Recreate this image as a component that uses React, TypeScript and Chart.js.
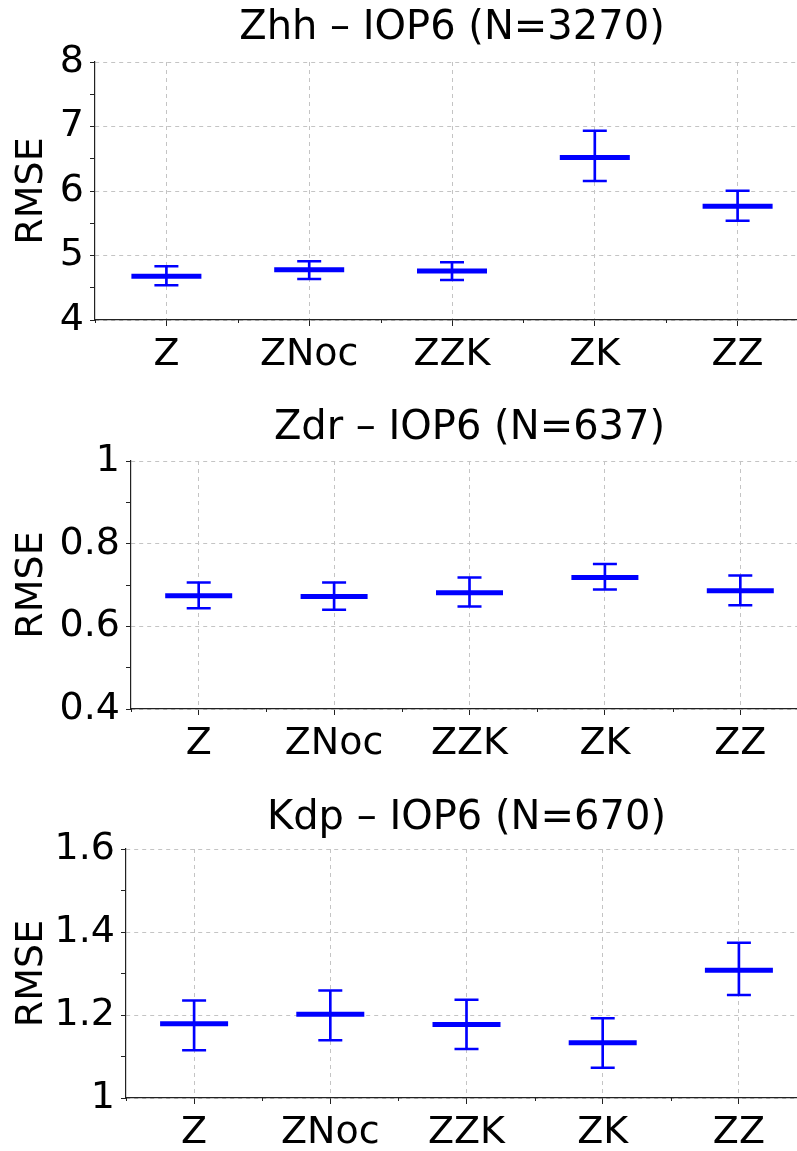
import React, { useEffect, useRef } from 'react';
import { Chart, registerables } from 'chart.js';

Chart.register(...registerables);

// ---------------- data ----------------
const categories = ['Z', 'ZNoc', 'ZZK', 'ZK', 'ZZ'];

const zhhMedian = [4.68, 4.78, 4.76, 6.52, 5.765];
const zhhLower = [4.54, 4.635, 4.62, 6.155, 5.54];
const zhhUpper = [4.835, 4.91, 4.895, 6.935, 6.005];

const zdrMedian = [0.674, 0.672, 0.681, 0.718, 0.686];
const zdrLower = [0.644, 0.64, 0.648, 0.689, 0.651];
const zdrUpper = [0.706, 0.706, 0.718, 0.751, 0.723];

const kdpMedian = [1.179, 1.202, 1.177, 1.133, 1.308];
const kdpLower = [1.115, 1.139, 1.118, 1.073, 1.248];
const kdpUpper = [1.235, 1.259, 1.237, 1.192, 1.374];

const panelTitles = ['Zhh \u2013 IOP6 (N=3270)', 'Zdr \u2013 IOP6 (N=637)', 'Kdp \u2013 IOP6 (N=670)'];
const yMins = [4, 0.4, 1];
const yMaxs = [8, 1, 1.6];
const yMinorSteps = [0.5, 0.1, 0.1];
const yMajorSteps = [1, 0.2, 0.2];
const yAxisTitle = 'RMSE';

// ---------------- layout / style ----------------
const FONT = "'DejaVu Sans', 'Liberation Sans', sans-serif";
const BLUE = '#0000ff';

type PanelLayout = {
  top: number;
  width: number;
  height: number;
  yAxisWidth: number;
  xAxisHeight: number;
  titlePadTop: number;
  titlePadBottom: number;
  medianRadius: number;
};

const layouts: PanelLayout[] = [
  { top: 0, width: 809, height: 390, yAxisWidth: 95, xAxisHeight: 70, titlePadTop: 5, titlePadBottom: 9, medianRadius: 35 },
  { top: 390, width: 808, height: 390, yAxisWidth: 131, xAxisHeight: 71, titlePadTop: 15, titlePadBottom: 8, medianRadius: 33.5 },
  { top: 780, width: 807, height: 371, yAxisWidth: 126, xAxisHeight: 53, titlePadTop: 15, titlePadBottom: 6, medianRadius: 34 },
];

const minorXTicks = {
  id: 'minorXTicks',
  afterDatasetsDraw(chart: any) {
    const xs = chart.scales.x;
    const ctx = chart.ctx;
    const bottom = chart.chartArea.bottom;
    ctx.save();
    ctx.strokeStyle = '#222';
    ctx.lineWidth = 1;
    for (let i = -1; i < categories.length - 1; i++) {
      const px = Math.round(xs.getPixelForValue(i + 0.5)) + 0.5;
      ctx.beginPath();
      ctx.moveTo(px, bottom);
      ctx.lineTo(px, bottom + 3);
      ctx.stroke();
    }
    ctx.restore();
  },
};

function isMajor(v: number, idx: number) {
  const r = Math.round(v / yMinorSteps[idx]);
  const ratio = Math.round(yMajorSteps[idx] / yMinorSteps[idx]);
  return r % ratio === 0;
}

function fmt(v: number) {
  return String(Math.round(v * 10) / 10);
}

function Panel({ idx, median, lower, upper }: { idx: number; median: number[]; lower: number[]; upper: number[] }) {
  const ref = useRef<HTMLCanvasElement | null>(null);
  const L = layouts[idx];
  useEffect(() => {
    if (!ref.current) return;
    const whiskers = lower.map((lo, i) => [lo, upper[i]]);
    const capDataset = (values: number[]) =>
      ({
        type: 'line',
        data: values,
        showLine: false,
        pointStyle: 'line',
        pointRadius: 12,
        pointHoverRadius: 12,
        pointBorderWidth: 2.5,
        pointBorderColor: BLUE,
        borderColor: BLUE,
        backgroundColor: BLUE,
      } as any);
    const chart = new Chart(ref.current, {
      type: 'bar',
      data: {
        labels: categories,
        datasets: [
          {
            type: 'line',
            data: median,
            showLine: false,
            pointStyle: 'line',
            pointRadius: L.medianRadius,
            pointHoverRadius: L.medianRadius,
            pointBorderWidth: 5,
            pointBorderColor: BLUE,
            borderColor: BLUE,
            backgroundColor: BLUE,
          } as any,
          capDataset(upper),
          capDataset(lower),
          {
            type: 'bar',
            data: whiskers as any,
            backgroundColor: BLUE,
            borderWidth: 0,
            barThickness: 2,
            grouped: false,
          } as any,
        ],
      },
      options: {
        responsive: false,
        animation: false,
        events: [],
        layout: { padding: 0, autoPadding: false },
        plugins: {
          legend: { display: false },
          tooltip: { enabled: false },
          title: {
            display: true,
            text: panelTitles[idx],
            fullSize: false,
            color: '#000',
            font: { family: FONT, size: 40, weight: 'normal', lineHeight: 1.2 },
            padding: { top: L.titlePadTop, bottom: L.titlePadBottom },
          },
        },
        scales: {
          x: {
            type: 'category',
            offset: true,
            grid: {
              offset: false,
              color: '#c4c4c4',
              lineWidth: 1,
              drawTicks: true,
              tickLength: 6,
              tickColor: '#222',
              tickWidth: 1,
            },
            border: { display: true, color: '#222', width: 1.2, dash: [4, 4] },
            ticks: {
              color: '#000',
              font: { family: FONT, size: 38 },
              padding: 6,
              autoSkip: false,
              maxRotation: 0,
              minRotation: 0,
            },
            afterFit: (s: any) => {
              s.height = L.xAxisHeight;
              s.paddingLeft = 0;
              s.paddingRight = 0;
            },
          },
          y: {
            type: 'linear',
            min: yMins[idx],
            max: yMaxs[idx],
            ticks: {
              stepSize: yMinorSteps[idx],
              color: '#000',
              font: { family: FONT, size: 38 },
              padding: 6,
              autoSkip: false,
              callback: (v: any) => (isMajor(Number(v), idx) ? fmt(Number(v)) : ''),
            },
            grid: {
              color: (c: any) =>
                c.tick && isMajor(c.tick.value, idx) ? '#c4c4c4' : 'rgba(0,0,0,0)',
              lineWidth: 1,
              drawTicks: true,
              tickLength: 5,
              tickColor: '#222',
              tickWidth: 1,
            },
            border: { display: true, color: '#222', width: 1.2, dash: [4, 4] },
            title: {
              display: true,
              text: yAxisTitle,
              color: '#000',
              font: { family: FONT, size: 38 },
              padding: { top: 9, bottom: 0 },
            },
            afterFit: (s: any) => {
              s.width = L.yAxisWidth;
            },
          },
        },
      },
      plugins: [minorXTicks],
    } as any);
    return () => chart.destroy();
  }, []);
  return (
    <canvas
      ref={ref}
      width={L.width}
      height={L.height}
      style={{ position: 'absolute', left: 0, top: L.top, width: L.width, height: L.height }}
    />
  );
}

export default function App() {
  return (
    <div
      style={{
        position: 'absolute',
        left: 0,
        top: 0,
        width: 797,
        height: 1151,
        overflow: 'hidden',
        background: '#fff',
      }}
    >
      <Panel idx={0} median={zhhMedian} lower={zhhLower} upper={zhhUpper} />
      <Panel idx={1} median={zdrMedian} lower={zdrLower} upper={zdrUpper} />
      <Panel idx={2} median={kdpMedian} lower={kdpLower} upper={kdpUpper} />
    </div>
  );
}
